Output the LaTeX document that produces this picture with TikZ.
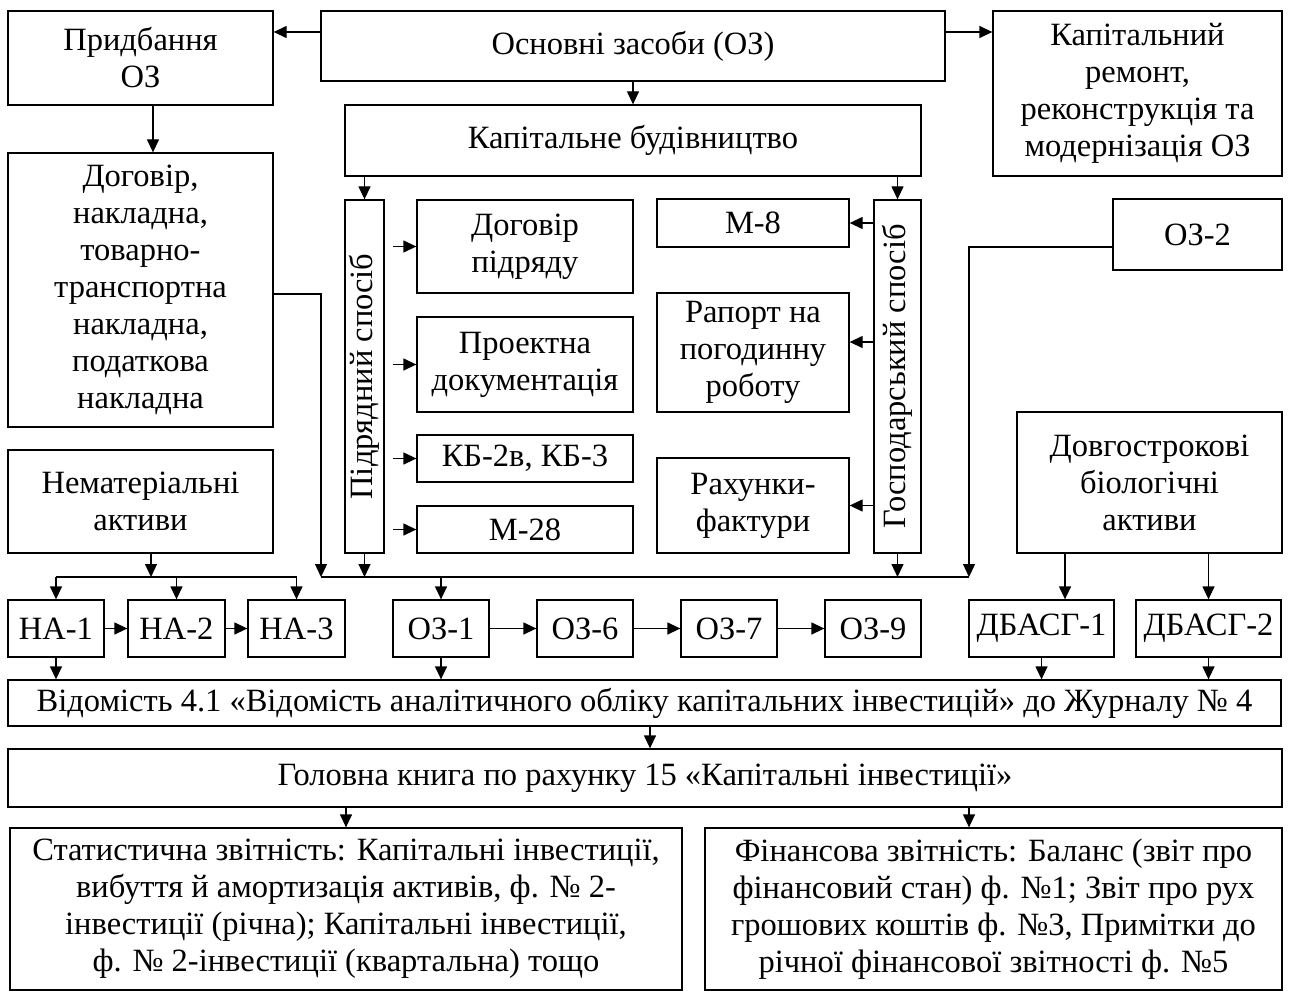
\documentclass[tikz,border=0pt]{standalone}
\usepackage{fontspec}
\setmainfont{Liberation Serif}
\usetikzlibrary{arrows.meta}
\tikzset{>={Triangle[length=13pt,width=12pt]}}
\tikzset{
  box/.style={draw, line width=1.3pt, align=center, inner sep=0pt,
    font=\fontsize{32.5}{37}\selectfont},
  doc/.style={box, minimum width=96pt, minimum height=57pt},
}

\begin{document}
\begin{tikzpicture}[x=1pt, y=-1pt, line width=1.3pt]
    \useasboundingbox (0,0) rectangle (1289,992);
    % top row
    \node[box, minimum width=265pt, minimum height=94pt] (pryd) at (140.5,58) {Придбання\\ОЗ};
    \node[box, minimum width=624pt, minimum height=70pt] (oz) at (633,46) {Основні засоби (ОЗ)};
    \node[box, minimum width=289pt, minimum height=165pt] (remont) at (1137.5,93.5) {Капітальний\\ремонт,\\реконструкція та\\модернізація ОЗ};
    \node[box, minimum width=576pt, minimum height=71pt] (kb) at (633,140.5) {Капітальне будівництво};
    \node[box, minimum width=265pt, minimum height=274pt] (dog) at (140.5,290) {Договір,\\накладна,\\товарно-\\транспортна\\накладна,\\податкова\\накладна};
    \node[box, minimum width=265pt, minimum height=103pt] (nma) at (140.5,501.5) {Нематеріальні\\активи};
    % capital construction
    \node[box, rotate=90, minimum width=353pt, minimum height=39pt] (pidr) at (364.5,376.5) {Підрядний спосіб};
    \node[box, minimum width=216pt, minimum height=93pt] (dpidr) at (525,246.5) {Договір\\підряду};
    \node[box, minimum width=216pt, minimum height=95pt] (proekt) at (525,364.5) {Проектна\\документація};
    \node[box, minimum width=216pt, minimum height=47pt] (kb2) at (525,458.5) {КБ-2в, КБ-3};
    \node[box, minimum width=216pt, minimum height=47pt] (m28) at (525,529.5) {М-28};
    \node[box, minimum width=192pt, minimum height=48pt] (m8) at (753,223) {М-8};
    \node[box, minimum width=192pt, minimum height=119pt] (raport) at (753,352.5) {Рапорт на\\погодинну\\роботу};
    \node[box, minimum width=192pt, minimum height=95pt] (rakh) at (753,505.5) {Рахунки-\\фактури};
    \node[box, rotate=90, minimum width=353pt, minimum height=47pt] (gosp) at (897.5,376.5) {Господарський спосіб};
    \node[box, minimum width=169pt, minimum height=71pt] (oz2) at (1197.5,234.5) {ОЗ-2};
    \node[box, minimum width=265pt, minimum height=141pt] (dba) at (1149.5,482.5) {Довгострокові\\біологічні\\активи};
    % documents row
    \node[doc] (na1) at (56,628.5) {НА-1};
    \node[doc, minimum width=97pt] (na2) at (176.5,628.5) {НА-2};
    \node[doc, minimum width=97pt] (na3) at (296.5,628.5) {НА-3};
    \node[doc] (oz1) at (441,628.5) {ОЗ-1};
    \node[doc] (oz6) at (585,628.5) {ОЗ-6};
    \node[doc] (oz7) at (729,628.5) {ОЗ-7};
    \node[doc] (oz9) at (873,628.5) {ОЗ-9};
    \node[doc, minimum width=145pt] (dbasg1) at (1041.5,628.5) {ДБАСГ-1};
    \node[doc, minimum width=145pt] (dbasg2) at (1208.5,628.5) {ДБАСГ-2};
    % registers and reports
    \node[box, minimum width=1273pt, minimum height=46pt] (vid) at (644.5,703) {Відомість 4.1 «Відомість аналітичного обліку капітальних інвестицій» до Журналу № 4};
    \node[box, minimum width=1274pt, minimum height=58pt] (gol) at (645,778) {Головна книга по рахунку 15 «Капітальні інвестиції»};
    \node[box, minimum width=672pt, minimum height=162pt] (stat) at (346,909) {Статистична звітність: Капітальні інвестиції,\\вибуття й амортизація активів, ф. № 2-\\інвестиції (річна); Капітальні інвестиції,\\ф. № 2-інвестиції (квартальна) тощо};
    \node[box, minimum width=577pt, minimum height=162pt] (fin) at (993.5,909) {Фінансова звітність: Баланс (звіт про\\фінансовий стан) ф. №1; Звіт про рух\\грошових коштів ф. №3, Примітки до\\річної фінансової звітності ф. №5};

    % arrows at the top
    \draw[->] (oz.west |- 0,32) -- (pryd.east |- 0,32);
    \draw[->] (oz.east |- 0,32) -- (remont.west |- 0,32);
    \draw[->] (oz) -- (kb);
    \draw[->] (pryd.south -| 153,0) -- (dog.north -| 153,0);
    \draw[->] (kb.south -| pidr) -- (pidr);
    \draw[->] (kb.south -| gosp) -- (gosp);
    \foreach \b in {dpidr,proekt,kb2,m28}
        \draw[->] (393,0 |- \b.west) -- (\b.west);
    % gosp is turned, its north side is on the left
    \draw[->] (gosp.north |- m8.east) -- (m8.east);
    \draw[->] (gosp.north |- 0,342) -- (raport.east |- 0,342);
    \draw[->] (gosp.north |- rakh.east) -- (rakh.east);

    % collecting lines
    \coordinate (bl) at (321,577);
    \coordinate (br) at (969,577);
    \coordinate (nal) at (56,577);
    \coordinate (nar) at (297,577);
    \coordinate (nab) at (151,577);
    \draw (bl) -- (br);
    \draw (nal) -- (nar);
    \draw[->] (dog.east |- 0,294) -| (bl);
    \draw[->] (pidr) -- (pidr |- bl);
    \draw[->] (gosp) -- (gosp |- br);
    \draw[->] (oz2.west |- 0,247) -| (br);
    \draw[->] (nab |- nma.south) -- (nab);
    \foreach \n in {na1,na2,na3}
        \draw[->] (nal -| \n) -- (\n);
    \draw[->] (bl -| oz1) -- (oz1);
    \draw[->] (dba.south -| 1065,0) -- (dbasg1.north -| 1065,0);
    \draw[->] (dba.south -| dbasg2) -- (dbasg2);

    % documents
    \draw[->] (na1) -- (na2);
    \draw[->] (na2) -- (na3);
    \draw[->] (oz1) -- (oz6);
    \draw[->] (oz6) -- (oz7);
    \draw[->] (oz7) -- (oz9);
    \foreach \n in {na1,oz1,dbasg1,dbasg2}
        \draw[->] (\n) -- (\n |- vid.north);
    \draw[->] (vid.south -| 650,0) -- (gol.north -| 650,0);
    \draw[->] (gol.south -| stat) -- (stat);
    \draw[->] (gol.south -| 969,0) -- (fin.north -| 969,0);
\end{tikzpicture}
\end{document}
